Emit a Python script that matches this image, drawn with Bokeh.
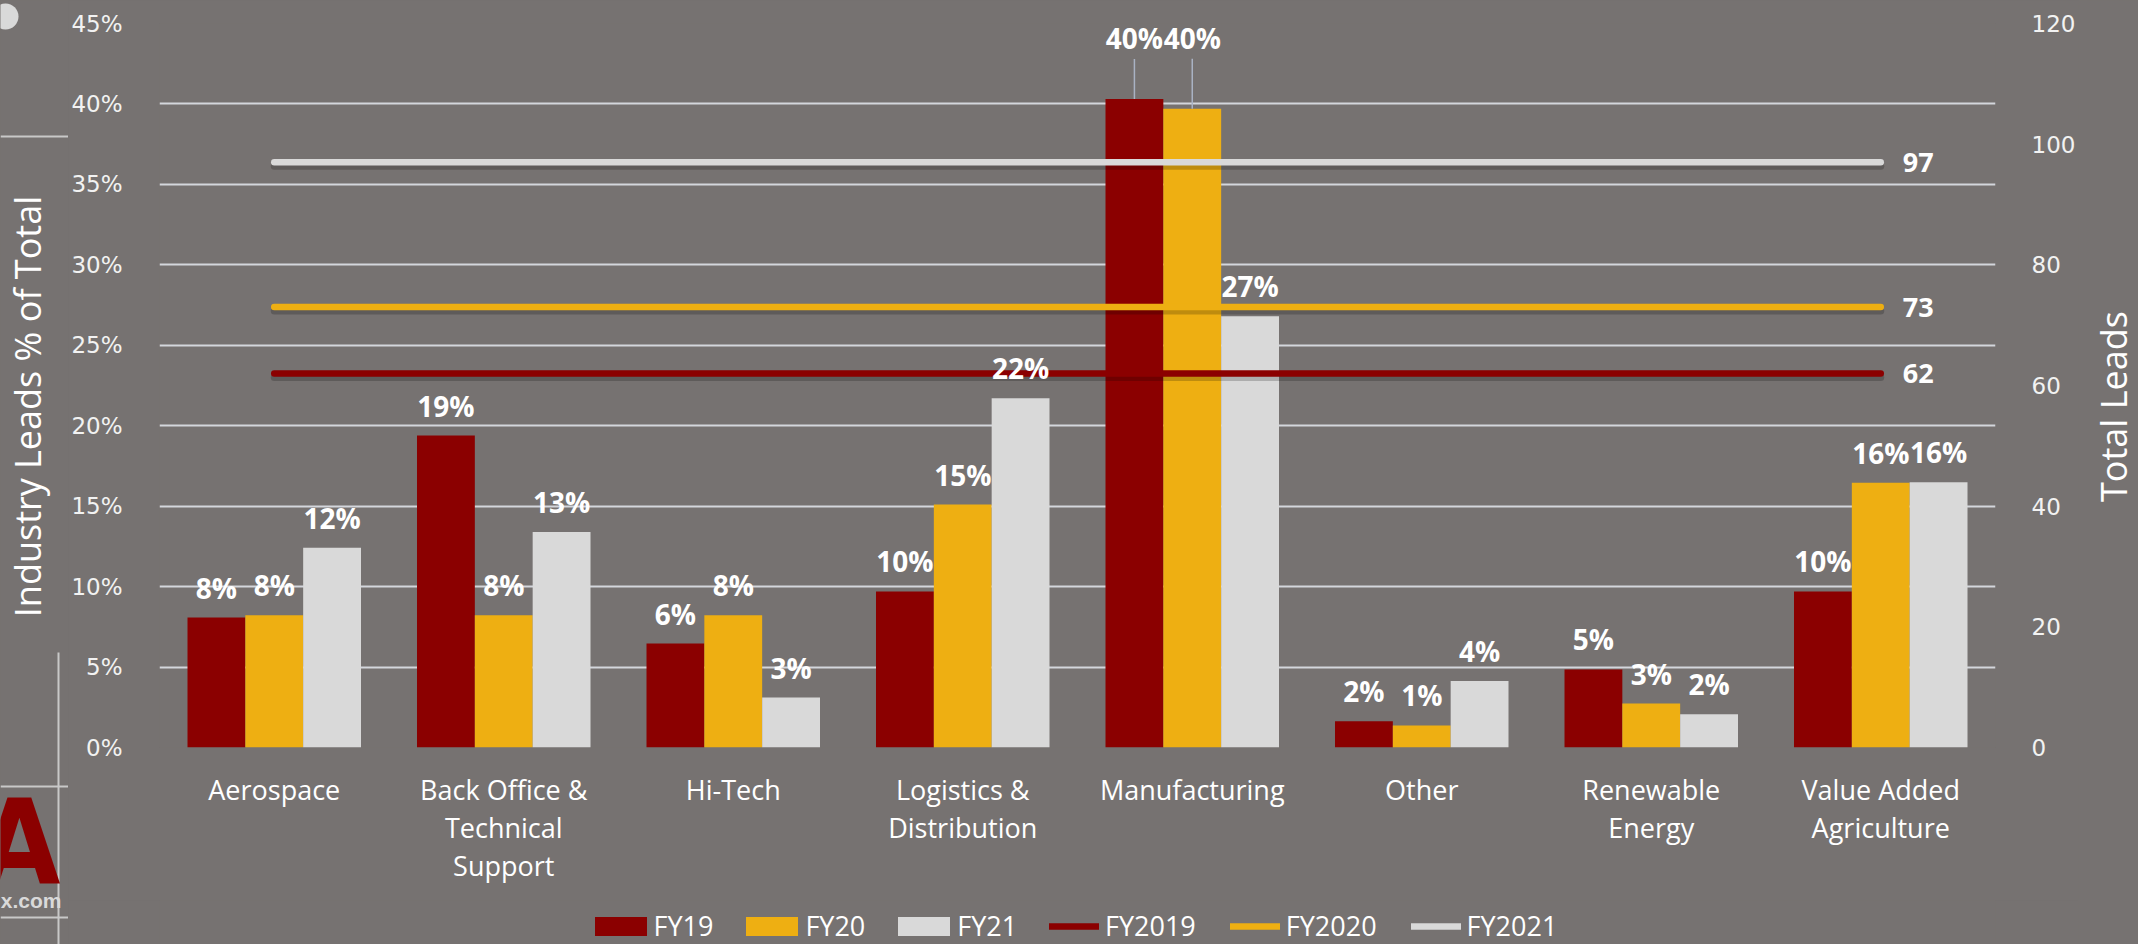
import math
from bokeh.plotting import figure
from bokeh.layouts import row, column
from bokeh.models import (FactorRange, Range1d, LinearAxis, SingleIntervalTicker,
                          PrintfTickFormatter, ColumnDataSource, Legend, LegendItem)
from bokeh.transform import dodge
from bokeh.core.properties import value
from bokeh.embed import file_html
from bokeh.resources import INLINE

# ---------------- data ----------------
categories = ["Aerospace", "Back Office &\nTechnical\nSupport", "Hi-Tech",
              "Logistics &\nDistribution", "Manufacturing", "Other",
              "Renewable\nEnergy", "Value Added\nAgriculture"]
fy19_pct = [8.08, 19.39, 6.46, 9.7, 40.3, 1.63, 4.85, 9.7]
fy20_pct = [8.22, 8.22, 8.22, 15.1, 39.7, 1.37, 2.73, 16.45]
fy21_pct = [12.41, 13.4, 3.1, 21.7, 26.8, 4.14, 2.07, 16.48]
bar_series = ["FY19", "FY20", "FY21"]
total_series = ["FY2019", "FY2020", "FY2021"]
total_leads = [62, 73, 97]
pct_axis_max = 45
leads_axis_max = 120
left_title = "Industry Leads % of Total"
right_title = "Total Leads"

# ---------------- style / layout ----------------
W, H = 2138, 944
DECO_L, DECO_R = 68, 60          # side strips (slide decorations / titles)
LEG_H = 44                        # legend strip height
MAIN_W = W - DECO_L - DECO_R
MAIN_H = H - LEG_H
FL, FR, FT, FB = 158, 1998, 23, 747   # frame edges on the page
FRAME_H = FB - FT
PCT_PER_PX = pct_axis_max / FRAME_H
LEADS_PER_PX = leads_axis_max / FRAME_H
BG = "#767271"
bar_colors = ["#8B0000", "#EEAF12", "#D9D9D9"]
line_colors = ["#8B0000", "#EEAF12", "#D9D9D9"]
offsets = [-0.252, 0.0, 0.252]
BAR_W = 0.252
FONT = "Open Sans"
label_lift = {(4, "FY19"): 31, (4, "FY20"): 41}   # dragged labels (px) with leader lines


def plain(fig):
    fig.background_fill_color = BG
    fig.border_fill_color = BG
    fig.outline_line_color = None
    fig.grid.visible = False
    return fig


# ================= main chart =================
p = figure(width=MAIN_W, height=MAIN_H,
           x_range=FactorRange(*categories, range_padding=0),
           y_range=Range1d(0, pct_axis_max),
           output_backend="svg", toolbar_location=None,
           min_border_left=FL - DECO_L, min_border_right=(W - DECO_R) - FR,
           min_border_top=FT, min_border_bottom=MAIN_H - FB)
p.background_fill_color = BG
p.border_fill_color = BG
p.outline_line_color = None
p.extra_y_ranges = {"leads": Range1d(0, leads_axis_max)}

pct_ticker = SingleIntervalTicker(interval=5, num_minor_ticks=0)
ya = p.yaxis[0]
ya.ticker = pct_ticker
ya.formatter = PrintfTickFormatter(format="%d%%")
p.ygrid.ticker = pct_ticker
p.ygrid.grid_line_color = "#D3D6DC"
p.ygrid.grid_line_width = 2
p.xgrid.visible = False

raxis = LinearAxis(y_range_name="leads",
                   ticker=SingleIntervalTicker(interval=20, num_minor_ticks=0))
p.add_layout(raxis, "right")

for ax, st in [(ya, 31), (raxis, 30)]:
    ax.axis_line_color = None
    ax.major_tick_line_color = None
    ax.minor_tick_line_color = None
    ax.major_label_standoff = st
    ax.major_label_text_font = "DejaVu Sans"
    ax.major_label_text_font_size = "23px"
    ax.major_label_text_color = "#F2F2F2"

xa = p.xaxis[0]
xa.axis_line_color = None
xa.major_tick_line_color = None
xa.minor_tick_line_color = None
xa.major_label_standoff = 17
xa.major_label_text_font = FONT
xa.major_label_text_font_size = "27px"
xa.major_label_text_color = "white"
xa.major_label_text_line_height = 1.03

# bars
src = ColumnDataSource(dict(cat=categories, FY19=fy19_pct, FY20=fy20_pct, FY21=fy21_pct))
for i, s in enumerate(bar_series):
    p.vbar(x=dodge("cat", offsets[i], range=p.x_range), top=s, width=BAR_W,
           source=src, fill_color=bar_colors[i], line_color=None)

# total-leads lines
for i, s in enumerate(total_series):
    t = total_leads[i]
    p.segment(x0=[categories[0]], x1=[categories[-1]],
              y0=[t - 4 * LEADS_PER_PX], y1=[t - 4 * LEADS_PER_PX],
              y_range_name="leads", line_color="black", line_alpha=0.2,
              line_width=7, line_cap="round")
    p.segment(x0=[categories[0]], x1=[categories[-1]], y0=[t], y1=[t],
              y_range_name="leads", line_color=line_colors[i], line_width=6.5,
              line_cap="round")
    p.text(x=[categories[-1]], y=[t], text=[str(t)], y_range_name="leads",
           x_offset=22, text_align="left", text_baseline="middle",
           text_color="white", text_font=value(FONT), text_font_style="bold",
           text_font_size="27px")

# data labels
series_vals = [fy19_pct, fy20_pct, fy21_pct]
for i, s in enumerate(bar_series):
    vals = series_vals[i]
    lifts = [label_lift.get((k, s), 0) for k in range(len(categories))]
    ly = [v + (30 + l) * PCT_PER_PX for v, l in zip(vals, lifts)]
    txt = ["%d%%" % int(v + 0.5) for v in vals]
    lsrc = ColumnDataSource(dict(cat=categories, y=ly, t=txt))
    lc = [c for c, l in zip(categories, lifts) if l > 0]
    if lc:
        v0 = [v for v, l in zip(vals, lifts) if l > 0]
        v1 = [v + (l + 9) * PCT_PER_PX for v, l in zip(vals, lifts) if l > 0]
        seg = ColumnDataSource(dict(cat=lc, y0=v0, y1=v1))
        p.segment(x0=dodge("cat", offsets[i], range=p.x_range), y0="y0",
                  x1=dodge("cat", offsets[i], range=p.x_range), y1="y1",
                  source=seg, line_color="#A9B2C3", line_width=1.5)
    p.text(x=dodge("cat", offsets[i], range=p.x_range), y="y", text="t", source=lsrc,
           text_align="center", text_baseline="middle", text_color="white",
           text_font=value(FONT), text_font_style="bold", text_font_size="28px")

# ================= legend strip (frame aligns with the main frame) =================
lg = plain(figure(width=MAIN_W, height=LEG_H, x_range=Range1d(0, 1), y_range=Range1d(0, 1),
                  output_backend="svg", toolbar_location=None, min_border=0,
                  x_axis_location=None, y_axis_location=None))
bar_items, line_items = [], []
for i, s in enumerate(bar_series):
    r = lg.vbar(x=[-5], top=[-5], bottom=[-6], width=0.1,
                fill_color=bar_colors[i], line_color=None)
    bar_items.append(LegendItem(label=s, renderers=[r]))
for i, s in enumerate(total_series):
    r = lg.segment(x0=[-5], x1=[-4], y0=[-5], y1=[-5], line_color=line_colors[i],
                   line_width=6.5, line_cap="round")
    line_items.append(LegendItem(label=s, renderers=[r]))
common = dict(orientation="horizontal", padding=0, margin=0, background_fill_alpha=0,
              border_line_color=None, label_text_font=FONT, label_text_font_size="27px",
              label_text_color="white", glyph_height=24)
lg.add_layout(Legend(items=bar_items, location=(586.5 - FL, 0), glyph_width=65,
                     label_standoff=1, spacing=26, **common))
lg.add_layout(Legend(items=line_items, location=(1048 - FL, 0), glyph_width=50,
                     label_standoff=6, spacing=34, **common))

# ================= left strip: title + slide decorations =================
dl = plain(figure(width=DECO_L, height=H, x_range=Range1d(0, DECO_L), y_range=Range1d(H, 0),
                  output_backend="svg", toolbar_location=None, min_border=0,
                  x_axis_location=None, y_axis_location=None))
dl.ellipse(x=[5], y=[16], width=26, height=26, fill_color="#D9D9D9", line_color=None)
dl.quad(left=[0, 57, 0, 0], right=[68, 59, 68, 68], top=[135, 652, 785, 916],
        bottom=[137, 944, 787, 918], fill_color="#C8C8C8", line_color=None)
dl.text(x=[60], y=[842], text=["A"], text_align="right", text_baseline="middle",
        text_font=value("DejaVu Sans Condensed"), text_font_style="bold",
        text_font_size="118px", text_color="#8B0000")
dl.text(x=[61], y=[900], text=["x.com"], text_align="right", text_baseline="middle",
        text_font=value("Liberation Sans"), text_font_style="bold",
        text_font_size="21px", text_color="#D9D9D9")
dl.text(x=[27], y=[406], text=[left_title], angle=math.pi / 2,
        text_align="center", text_baseline="middle", text_color="white",
        text_font=value(FONT), text_font_size="36px")

# ================= right strip: axis title =================
dr = plain(figure(width=DECO_R, height=H, x_range=Range1d(0, DECO_R), y_range=Range1d(H, 0),
                  output_backend="svg", toolbar_location=None, min_border=0,
                  x_axis_location=None, y_axis_location=None))
dr.text(x=[2113 - (W - DECO_R)], y=[406], text=[right_title], angle=math.pi / 2,
        text_align="center", text_baseline="middle", text_color="white",
        text_font=value(FONT), text_font_size="36px")

layout = row(dl, column(p, lg, spacing=0, styles={"background-color": BG}),
             dr, spacing=0, styles={"background-color": BG})
html = file_html(layout, INLINE)
html = html.replace("<body>", '<body style="background-color:%s;margin:0;">' % BG, 1)
open("out.html", "w").write(html)
